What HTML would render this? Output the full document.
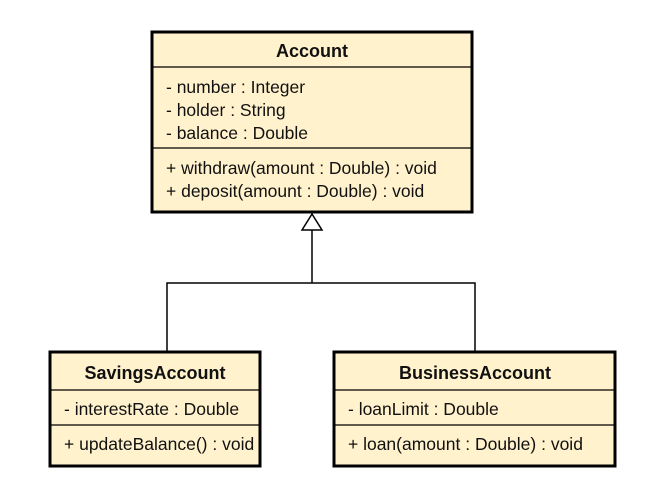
<!DOCTYPE html>
<html><head><meta charset="utf-8"><style>
body{margin:0;background:#fff;}
svg text{font-family:"Liberation Sans",sans-serif;font-size:17.5px;fill:#111;}
</style></head><body>
<svg width="660" height="489" xmlns="http://www.w3.org/2000/svg">
<rect x="0" y="0" width="660" height="489" fill="#fff"/>
<g stroke="#000" fill="#fff2cc">
<rect x="152" y="32" width="320" height="180" stroke-width="3"/>
<line x1="152" y1="67" x2="472" y2="67" stroke-width="1.2"/>
<line x1="152" y1="148" x2="472" y2="148" stroke-width="1.2"/>
<rect x="50" y="352" width="210" height="114" stroke-width="3"/>
<line x1="50" y1="390" x2="260" y2="390" stroke-width="1.2"/>
<line x1="50" y1="425" x2="260" y2="425" stroke-width="1.2"/>
<rect x="334" y="352" width="281" height="114" stroke-width="3"/>
<line x1="334" y1="390" x2="615" y2="390" stroke-width="1.2"/>
<line x1="334" y1="425" x2="615" y2="425" stroke-width="1.2"/>
</g>
<g stroke="#000" stroke-width="1.5" fill="none">
<polyline points="167,352 167,283 475,283 475,352"/>
<line x1="312" y1="230" x2="312" y2="283"/>
<polygon points="312,214 302,230 322,230" fill="#fff"/>
</g>
<text x="312" y="57" text-anchor="middle" font-weight="bold" style="font-size:18px">Account</text>
<text x="166" y="93">- number : Integer</text>
<text x="166" y="116">- holder : String</text>
<text x="166" y="139">- balance : Double</text>
<text x="166" y="174">+ withdraw(amount : Double) : void</text>
<text x="166" y="197">+ deposit(amount : Double) : void</text>
<text x="155" y="379" text-anchor="middle" font-weight="bold" style="font-size:18px">SavingsAccount</text>
<text x="64" y="415">- interestRate : Double</text>
<text x="64" y="450">+ updateBalance() : void</text>
<text x="475" y="379" text-anchor="middle" font-weight="bold" style="font-size:18px">BusinessAccount</text>
<text x="348" y="415">- loanLimit : Double</text>
<text x="348" y="450">+ loan(amount : Double) : void</text>
</svg>
</body></html>
